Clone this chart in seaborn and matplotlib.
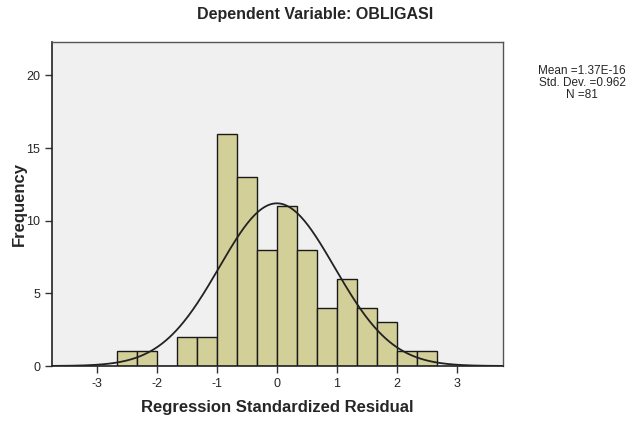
import numpy as np
import pandas as pd
import matplotlib
matplotlib.use("Agg")
import matplotlib.pyplot as plt
import seaborn as sns

bin_edges = [-8/3, -7/3, -2, -5/3, -4/3, -1, -2/3, -1/3, 0, 1/3, 2/3, 1, 4/3, 5/3, 2, 7/3, 8/3]
counts = [1, 1, 0, 2, 2, 16, 13, 8, 11, 8, 4, 6, 4, 3, 1, 1]
mean = 1.37e-16
std = 0.962
n = 81
xticks = [-3, -2, -1, 0, 1, 2, 3]
yticks = [0, 5, 10, 15, 20]

sns.set_theme(style="white")
plt.rcParams['font.family'] = ['Liberation Sans', 'DejaVu Sans']

centers = [(bin_edges[i] + bin_edges[i + 1]) / 2 for i in range(len(counts))]
df = pd.DataFrame({"resid": centers, "count": counts})

fig = plt.figure(figsize=(6.3, 4.23), dpi=100)
ax = fig.add_axes([52/630, 1 - 366/423, (503-52)/630, (366-42)/423])
ax.set_facecolor("#F0F0F0")

sns.histplot(data=df, x="resid", weights="count", bins=bin_edges, ax=ax,
             color="#D3CF98", edgecolor="#1a1a1a", linewidth=1.0, alpha=1)

bw = bin_edges[1] - bin_edges[0]
xs = np.linspace(-3.75, 3.75, 400)
ys = n * bw * np.exp(-0.5 * ((xs - mean) / std) ** 2) / (std * np.sqrt(2 * np.pi))
sns.lineplot(x=xs, y=ys, ax=ax, color="#222222", linewidth=1.3)

ax.set_xlim(-3.75, 3.77)
ax.set_ylim(0, 22.3)
ax.set_xticks(xticks)
ax.set_xticklabels([str(t) for t in xticks])
ax.set_yticks(yticks)
ax.set_yticklabels([str(t) for t in yticks])
ax.tick_params(axis="both", direction="out", length=5, width=1, color="#333333",
               labelsize=9, bottom=True, left=True)
for s in ["left", "bottom"]:
    ax.spines[s].set_color("#222222")
    ax.spines[s].set_linewidth(1.2)
for s in ["top", "right"]:
    ax.spines[s].set_color("#555555")
    ax.spines[s].set_linewidth(1.0)

ax.set_xlabel("Regression Standardized Residual", fontsize=12, fontweight="bold")
ax.xaxis.set_label_coords(0.5, -(407 - 366) / 324, transform=ax.transAxes)
ax.xaxis.label.set_va("center")
ax.set_ylabel("Frequency", fontsize=12, fontweight="bold")
ax.yaxis.set_label_coords((19 - 52) / 451, 0.5)
ax.yaxis.label.set_va("center")
fig.text(315/630, 1 - 15/423, "Dependent Variable: OBLIGASI", ha="center", va="center",
         fontsize=11.5, fontweight="bold")
fig.text(582/630, 1 - 83/423, f"Mean ={mean:.2E}\nStd. Dev. ={std}\nN ={n}",
         ha="center", va="center", fontsize=8.5, linespacing=1.0)

fig.savefig("out.png", dpi=100)
